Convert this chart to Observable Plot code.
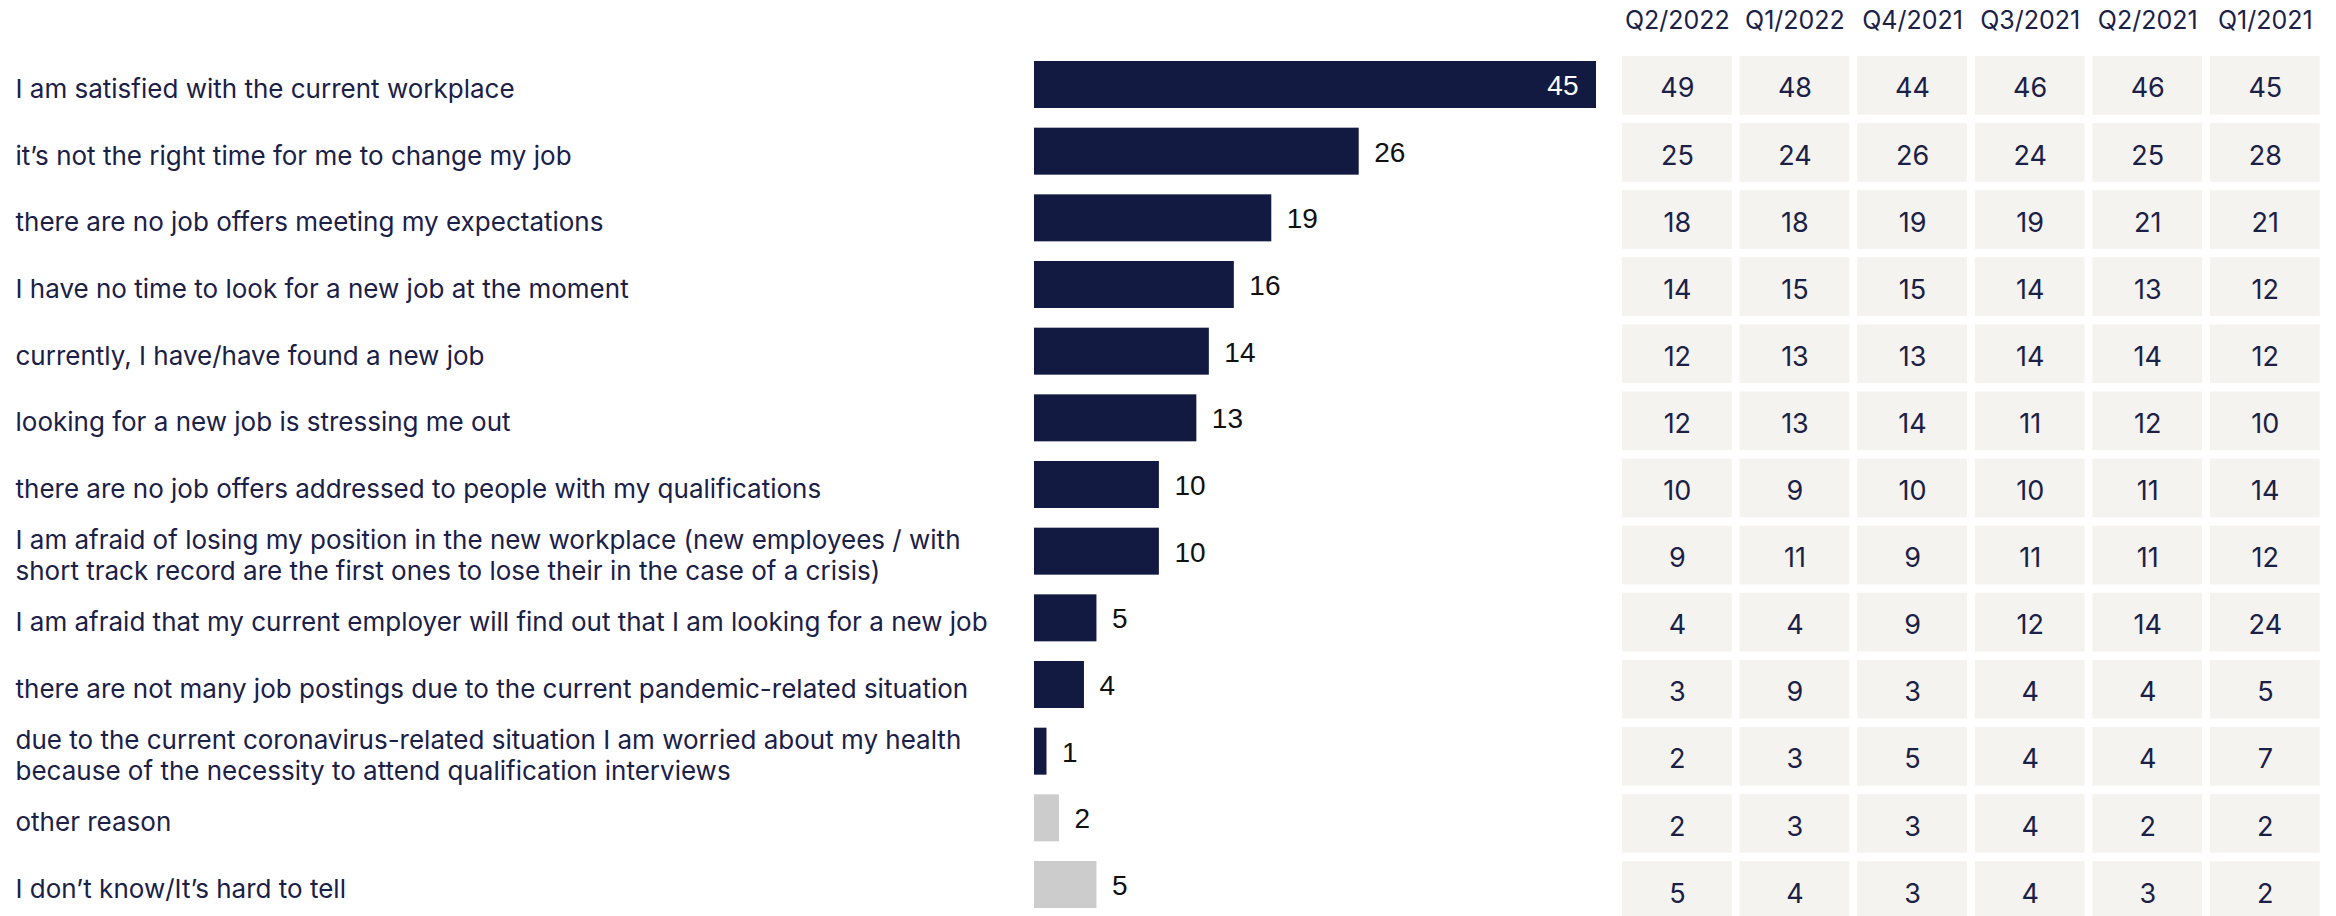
<!DOCTYPE html>
<html>
<head>
<meta charset="utf-8">
<script src="https://cdn.jsdelivr.net/npm/d3@7"></script>
<script src="https://cdn.jsdelivr.net/npm/@observablehq/plot@0.6"></script>
<style>
  html, body { margin: 0; padding: 0; background: #ffffff; overflow: hidden; }
  #wrap { position: relative; width: 2336px; height: 916px; }
  #wrap svg { position: absolute; left: 0; top: 0; }
</style>
</head>
<body>
<div id="wrap"></div>
<script>
const categories = [
  "I am satisfied with the current workplace",
  "it’s not the right time for me to change my job",
  "there are no job offers meeting my expectations",
  "I have no time to look for a new job at the moment",
  "currently, I have/have found a new job",
  "looking for a new job is stressing me out",
  "there are no job offers addressed to people with my qualifications",
  "I am afraid of losing my position in the new workplace (new employees / with\nshort track record are the first ones to lose their in the case of a crisis)",
  "I am afraid that my current employer will find out that I am looking for a new job",
  "there are not many job postings due to the current pandemic-related situation",
  "due to the current coronavirus-related situation I am worried about my health\nbecause of the necessity to attend qualification interviews",
  "other reason",
  "I don’t know/It’s hard to tell"
];
const current = [45, 26, 19, 16, 14, 13, 10, 10, 5, 4, 1, 2, 5];
const group = ["reason","reason","reason","reason","reason","reason","reason","reason","reason","reason","reason","other","other"];

const quarters = ["Q2/2022", "Q1/2022", "Q4/2021", "Q3/2021", "Q2/2021", "Q1/2021"];
const q2_2022 = [49, 25, 18, 14, 12, 12, 10, 9, 4, 3, 2, 2, 5];
const q1_2022 = [48, 24, 18, 15, 13, 13, 9, 11, 4, 9, 3, 3, 4];
const q4_2021 = [44, 26, 19, 15, 13, 14, 10, 9, 9, 3, 5, 3, 3];
const q3_2021 = [46, 24, 19, 14, 14, 11, 10, 11, 12, 4, 4, 4, 4];
const q2_2021 = [46, 25, 21, 13, 14, 12, 11, 11, 14, 4, 4, 2, 3];
const q1_2021 = [45, 28, 21, 12, 12, 10, 14, 12, 24, 5, 7, 2, 2];
const history = [q2_2022, q1_2022, q4_2021, q3_2021, q2_2021, q1_2021];

const NAVY = "#131a42";
const TEXT = "#1b2047";
const GREY = "#cccccc";
const CELL = "#f4f3ef";
const FONT = "Inter, 'Noto Sans', sans-serif";

const bars = categories.map((c, i) => ({category: c, value: current[i], group: group[i]}));
const cells = [];
quarters.forEach((q, j) => categories.forEach((c, i) => cells.push({quarter: q, category: c, value: history[j][i]})));

const W = 2336, H = 916;

const barPlot = Plot.plot({
  width: W, height: H,
  marginLeft: 15, marginRight: 0, marginTop: 0, marginBottom: 0,
  style: {background: "transparent", overflow: "visible"},
  x: {domain: [0, 45], range: [1034, 1596], axis: null},
  y: {domain: categories, range: [61, 908], paddingInner: 0.295, paddingOuter: 0, round: false, axis: null},
  color: {domain: ["reason", "other"], range: [NAVY, GREY]},
  marks: [
    Plot.text(bars, {
      y: "category", text: "category", frameAnchor: "left", textAnchor: "start",
      fontFamily: FONT, fontSize: 26, fill: TEXT, lineHeight: 1.2, dy: 3
    }),
    Plot.barX(bars, {x: "value", y: "category", fill: "group"}),
    Plot.text(bars.filter(d => d.value < 40), {
      x: "value", y: "category", text: d => String(d.value), textAnchor: "start", dx: 15, dy: 1,
      fontFamily: "'Liberation Sans', Arial, sans-serif", fontSize: 28, fill: "#111111"
    }),
    Plot.text(bars.filter(d => d.value >= 40), {
      x: "value", y: "category", text: d => String(d.value), textAnchor: "end", dx: -18, dy: 1,
      fontFamily: "'Liberation Sans', Arial, sans-serif", fontSize: 28, fill: "#ffffff"
    })
  ]
});

const tablePlot = Plot.plot({
  width: W, height: H,
  marginLeft: 0, marginRight: 0, marginTop: 0, marginBottom: 0,
  style: {background: "transparent", overflow: "visible"},
  x: {domain: quarters, range: [1622, 2319.7], paddingInner: 0.067, paddingOuter: 0, round: false, axis: null},
  y: {domain: categories, range: [56, 919.9], paddingInner: 0.125, paddingOuter: 0, round: false, axis: null},
  marks: [
    Plot.cell(cells, {x: "quarter", y: "category", fill: CELL}),
    Plot.text(cells, {
      x: "quarter", y: "category", text: d => String(d.value), dy: 3,
      fontFamily: FONT, fontSize: 27, fill: TEXT
    }),
    Plot.text(quarters, {
      x: d => d, text: d => d, frameAnchor: "top", lineAnchor: "top", dy: 10.5,
      fontFamily: FONT, fontSize: 25, fill: TEXT
    })
  ]
});

const wrap = document.getElementById("wrap");
wrap.appendChild(barPlot);
wrap.appendChild(tablePlot);
</script>
</body>
</html>
